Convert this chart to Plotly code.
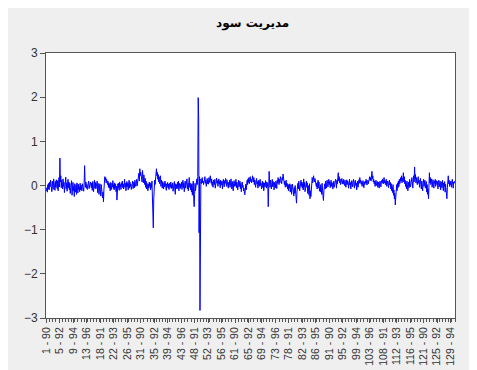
import plotly.graph_objects as go

title_text = "مدیریت سود"

firms = list(range(1, 131))
years = [90, 91, 92, 93, 94, 95, 96]

values = [
    -0.12, -0.05, -0.15, 0.02, -0.08, 0.05, -0.10, 0.08, -0.03, 0.12,
    -0.06, 0.03, -0.14, 0.10, 0.04, -0.09, 0.15, -0.02, 0.06, -0.11,
    0.09, -0.04, 0.13, 0.01, -0.07, 0.11, -0.12, 0.05, 0.18, -0.03,
    0.62, 0.08, 0.22, -0.05, 0.12, 0.03, -0.08, 0.15, -0.02, 0.07,
    -0.16, 0.10, 0.04, 0.19, -0.07, 0.06, -0.13, 0.02, 0.14, -0.05,
    0.08, -0.10, 0.05, -0.18, 0.03, -0.06, 0.11, -0.22, -0.04, 0.07,
    -0.12, -0.02, -0.25, 0.04, -0.08, -0.15, 0.02, -0.20, 0.06, -0.05,
    -0.17, 0.03, -0.09, -0.03, -0.14, 0.05, -0.10, 0.01, -0.06, -0.12,
    0.04, -0.08, -0.01, -0.13, 0.06, 0.45, 0.12, -0.04, 0.08, -0.06,
    0.02, -0.09, 0.05, -0.03, 0.10, -0.07, 0.03, -0.02, 0.08, 0.00,
    -0.05, 0.06, -0.11, 0.09, 0.02, -0.14, 0.04, 0.12, -0.06, 0.07,
    -0.08, 0.03, -0.02, 0.10, -0.16, 0.05, 0.00, -0.20, -0.07, 0.04,
    -0.12, -0.24, 0.02, -0.18, -0.08, -0.28, -0.15, -0.37, -0.10, 0.05,
    0.20, 0.12, 0.18, 0.06, 0.14, 0.08, 0.02, 0.10, -0.04, 0.06,
    -0.06, 0.04, -0.12, 0.07, 0.00, -0.09, 0.05, -0.03, 0.11, -0.07,
    0.02, -0.10, 0.06, -0.05, 0.03, -0.14, -0.02, -0.33, -0.08, 0.04,
    -0.06, 0.05, -0.11, 0.08, -0.03, 0.02, -0.09, 0.06, -0.01, 0.10,
    -0.05, 0.03, -0.08, 0.07, 0.14, -0.04, 0.05, -0.12, 0.02, 0.09,
    -0.03, 0.06, -0.10, 0.04, 0.12, -0.06, 0.08, -0.02, 0.03, -0.09,
    0.05, -0.04, 0.10, -0.07, 0.02, 0.08, -0.05, 0.12, 0.03, -0.02,
    0.06, 0.14, -0.01, 0.09, 0.20, 0.16, 0.28, 0.10, 0.38, 0.22,
    0.30, 0.15, 0.25, 0.08, 0.34, 0.18, 0.06, 0.24, 0.12, 0.02,
    0.16, -0.04, 0.10, -0.08, 0.05, 0.00, -0.12, 0.03, -0.06, 0.08,
    -0.02, 0.06, -0.10, 0.04, -0.05, 0.10, -0.18, -0.60, -0.96, -0.30,
    0.05, 0.12, 0.02, 0.18, 0.10, 0.38, 0.22, 0.30, 0.14, 0.25,
    0.08, 0.20, 0.04, 0.15, 0.22, -0.02, 0.12, 0.05, -0.06, 0.09,
    0.01, -0.08, 0.06, -0.03, 0.10, -0.05, 0.02, -0.11, 0.04, -0.02,
    0.07, -0.06, 0.03, -0.09, 0.05, 0.00, -0.04, 0.08, -0.07, 0.02,
    -0.05, 0.06, -0.13, 0.03, -0.02, 0.09, -0.10, -0.20, 0.04, -0.06,
    0.02, -0.08, 0.07, -0.04, 0.10, -0.12, 0.01, 0.05, -0.07, 0.03,
    -0.03, 0.08, -0.09, 0.04, 0.12, -0.05, 0.06, -0.14, 0.02, 0.10,
    -0.06, 0.03, -0.02, 0.15, -0.08, 0.05, -0.12, 0.08, 0.18, -0.04,
    0.06, -0.10, 0.02, -0.15, 0.04, -0.22, -0.08, 0.10, -0.30, -0.48,
    -0.20, 0.05, -0.12, 0.08, -0.05, 0.15, 0.02, 0.20, 1.99, 1.55,
    -1.07, 0.20, -2.83, 0.08, 0.15, 0.04, 0.12, 0.18, 0.06, 0.10,
    0.02, 0.14, 0.08, 0.20, 0.05, 0.12, -0.02, 0.09, 0.16, 0.04,
    0.11, 0.03, 0.18, 0.07, 0.13, 0.22, 0.10, 0.05, 0.15, 0.00,
    0.08, -0.04, 0.12, 0.06, 0.02, 0.14, -0.06, 0.10, 0.04, 0.17,
    0.05, 0.11, -0.02, 0.08, 0.15, 0.03, 0.09, -0.05, 0.12, 0.06,
    0.01, 0.10, -0.08, 0.07, 0.14, 0.02, -0.03, 0.11, 0.05, 0.16,
    0.08, -0.02, 0.13, 0.04, 0.10, -0.06, 0.07, 0.01, 0.12, -0.04,
    0.06, 0.15, 0.02, -0.08, 0.09, 0.03, -0.12, 0.05, 0.11, -0.02,
    0.07, 0.00, 0.14, -0.05, 0.08, 0.03, -0.10, 0.06, 0.12, -0.03,
    0.04, 0.10, -0.07, 0.05, -0.14, 0.02, 0.08, -0.04, 0.00, -0.12,
    -0.06, -0.18, -0.21, -0.08, 0.03, -0.10, 0.06, 0.12, 0.02, 0.15,
    0.07, 0.18, 0.04, 0.12, 0.20, 0.09, 0.14, 0.06, 0.10, 0.22,
    0.15, 0.08, 0.18, 0.02, 0.12, 0.05, -0.04, 0.10, 0.16, 0.03,
    0.09, -0.06, 0.06, 0.12, -0.02, 0.08, 0.14, 0.00, 0.05, -0.08,
    0.03, 0.10, -0.05, 0.07, -0.12, 0.02, 0.06, -0.03, 0.11, 0.04,
    -0.06, 0.08, -0.02, 0.05, -0.48, 0.10, 0.32, 0.06, -0.04, 0.12,
    0.02, -0.08, 0.06, 0.14, -0.03, 0.09, 0.04, -0.10, 0.07, 0.01,
    -0.05, 0.10, 0.03, -0.07, 0.12, 0.05, 0.18, 0.08, 0.02, 0.14,
    0.06, 0.20, 0.10, 0.15, 0.04, 0.18, 0.12, 0.26, 0.08, 0.16,
    0.02, 0.10, -0.04, 0.07, 0.12, -0.02, 0.05, -0.08, 0.03, -0.12,
    0.01, -0.06, 0.04, -0.15, -0.05, 0.02, -0.20, -0.08, 0.03, -0.16,
    -0.10, -0.24, -0.05, -0.18, 0.00, -0.12, -0.30, -0.40, -0.15, -0.06,
    0.05, -0.08, 0.10, 0.02, -0.12, 0.06, -0.04, 0.12, -0.02, 0.08,
    -0.06, 0.04, -0.10, 0.15, -0.03, 0.07, -0.14, 0.02, -0.08, 0.10,
    -0.04, 0.06, -0.18, 0.00, -0.10, -0.22, 0.04, -0.30, -0.12, -0.25,
    0.02, 0.10, 0.18, 0.06, 0.14, 0.22, 0.12, 0.08, 0.16, 0.04,
    0.10, -0.02, 0.06, -0.08, 0.03, 0.12, -0.05, 0.08, -0.12, -0.04,
    -0.15, 0.02, -0.08, -0.20, 0.05, -0.10, -0.25, -0.34, -0.12, -0.05,
    0.04, -0.08, 0.10, 0.02, -0.06, 0.12, 0.05, -0.03, 0.08, 0.14,
    0.02, 0.09, -0.05, 0.06, 0.12, -0.02, 0.07, 0.03, -0.08, 0.05,
    0.10, -0.04, 0.08, 0.01, 0.14, 0.06, -0.06, 0.12, 0.04, 0.18,
    0.29, 0.10, 0.20, 0.06, 0.15, 0.02, 0.12, 0.08, 0.16, 0.04,
    0.11, 0.03, 0.14, 0.07, 0.00, 0.12, 0.05, -0.04, 0.09, 0.13,
    0.02, 0.10, 0.06, -0.06, 0.08, 0.14, 0.01, 0.07, -0.08, 0.04,
    0.11, 0.05, -0.03, 0.09, 0.14, 0.02, -0.06, 0.08, 0.12, 0.00,
    0.06, -0.10, 0.04, 0.10, -0.04, 0.08, 0.13, 0.05, 0.18, 0.07,
    0.12, 0.03, 0.09, -0.02, 0.06, 0.11, 0.04, -0.05, 0.08, 0.02,
    0.10, 0.05, 0.14, 0.07, 0.01, 0.09, 0.12, 0.04, 0.16, 0.08,
    0.20, 0.12, 0.18, 0.10, 0.25, 0.32, 0.15, 0.22, 0.08, 0.14,
    0.04, 0.10, -0.02, 0.06, 0.12, 0.00, 0.05, 0.09, -0.04, 0.03,
    0.08, -0.06, 0.04, 0.10, 0.02, -0.03, 0.07, 0.12, 0.05, 0.15,
    0.09, 0.04, 0.18, 0.06, 0.11, 0.02, 0.08, 0.14, -0.02, 0.06,
    0.10, 0.03, -0.05, 0.08, 0.12, 0.01, 0.07, -0.08, 0.04, -0.12,
    -0.04, -0.16, 0.02, -0.22, -0.10, -0.30, -0.18, -0.44, -0.20, -0.08,
    0.02, -0.12, 0.06, -0.05, 0.10, -0.02, 0.14, 0.04, 0.08, 0.18,
    0.10, 0.22, 0.06, 0.16, 0.12, 0.29, 0.08, 0.20, 0.04, 0.12,
    -0.02, 0.06, -0.08, 0.10, 0.02, -0.12, 0.04, 0.08, -0.05, 0.14,
    0.05, -0.03, 0.12, 0.02, 0.18, 0.06, -0.06, 0.10, 0.22, 0.08,
    0.42, 0.15, 0.25, 0.06, 0.18, 0.10, 0.02, 0.14, 0.20, 0.05,
    0.12, -0.04, 0.08, 0.16, 0.02, -0.08, 0.10, 0.04, -0.12, 0.06,
    0.14, -0.02, 0.07, 0.12, -0.06, 0.03, 0.09, -0.15, 0.02, -0.20,
    -0.08, -0.30, 0.12, 0.29, 0.06, 0.18, 0.02, 0.10, 0.15, -0.04,
    0.08, 0.13, 0.03, -0.06, 0.10, 0.05, 0.14, -0.02, 0.07, 0.11,
    0.02, 0.09, -0.08, 0.06, 0.12, -0.03, 0.05, 0.10, -0.10, 0.04,
    0.08, -0.05, 0.12, 0.01, -0.12, 0.06, -0.02, 0.09, -0.15, 0.03,
    -0.06, -0.18, -0.30, -0.05, 0.10, 0.22, 0.04, 0.12, -0.02, 0.08,
    0.02, 0.10, -0.04, 0.06, 0.14, 0.03, -0.06, 0.08, 0.05, 0.10,
]

categories = [f"{f} - {y}" for f in firms for y in years]
label_step = 30
y_ticks = [-3, -2, -1, 0, 1, 2, 3]

x_index = list(range(len(values)))
tick_pos = x_index[::label_step]
tick_text = categories[::label_step]

fig = go.Figure()
fig.add_trace(go.Scatter(
    x=x_index, y=values, mode="lines",
    line=dict(color="#0000ff", width=1),
    hoverinfo="skip", showlegend=False,
))

axis_col = "#555555"
fig.update_layout(
    width=466, height=362,
    margin=dict(l=38, r=19, t=45, b=52),
    paper_bgcolor="#efefef",
    plot_bgcolor="#ffffff",
    title=dict(text=f"<b>{title_text}</b>", x=0.525, xanchor="center",
               yref="container", y=0.96, yanchor="middle",
               font=dict(family="DejaVu Sans", size=12, color="#000000")),
    font=dict(family="Liberation Sans", color="#333333"),
)
fig.update_xaxes(
    range=[-1, len(values)], automargin=False,
    tickmode="array", tickvals=tick_pos, ticktext=tick_text,
    tickangle=-90, tickfont=dict(size=10.5, family="Liberation Sans", color="#333333"),
    ticks="outside", ticklen=4, tickcolor=axis_col,
    minor=dict(tickmode="linear", tick0=0, dtick=7, ticks="outside", ticklen=3, tickcolor=axis_col),
    showline=True, linecolor=axis_col, linewidth=1, mirror=True,
    showgrid=False, zeroline=False,
)
fig.update_yaxes(
    range=[-3, 3], tickvals=y_ticks, automargin=False,
    tickfont=dict(size=12, family="Liberation Sans", color="#333333"),
    ticks="outside", ticklen=5, tickcolor=axis_col,
    showline=True, linecolor=axis_col, linewidth=1, mirror=True,
    showgrid=False, zeroline=False,
)

fig.write_html("out.html")
